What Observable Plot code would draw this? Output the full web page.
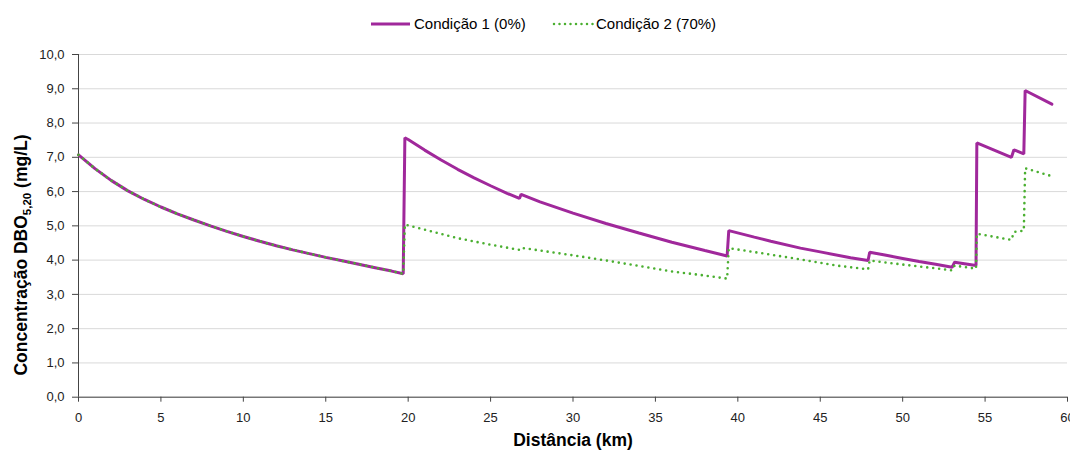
<!DOCTYPE html>
<html>
<head>
<meta charset="utf-8">
<script src="https://cdn.jsdelivr.net/npm/d3@7"></script>
<script src="https://cdn.jsdelivr.net/npm/@observablehq/plot@0.6"></script>
<style>
  body { margin: 0; background: #fff; font-family: "Liberation Sans", Arial, sans-serif; }
  #legend { position: relative; height: 45px; width: 1070px; font-size: 15px; color: #000; }
  #legend .lbl { position: absolute; top: 15px; line-height: 18px; white-space: nowrap; }
  #legend svg { position: absolute; top: 19px; }
  #chart svg { display: block; }
</style>
</head>
<body>
<div id="legend"></div>
<div id="chart"></div>
<script>
// Distância (km) and Concentração DBO (mg/L) — Condição 1 (0%)
const dist1 = [0,1,2,3,4,5,6,7,8,9,10,11,12,13,14,15,16,17,18,19,19.7,
  19.8,20,21,22,23,24,25,26,26.75,
  26.85,28,30,32,34,36,38,39.35,
  39.45,41,42,43.8,45,46.84,47.9,
  48.0,49,50,51,52,53.0,
  53.15,54.45,
  54.5,56.6,
  56.75,57.35,
  57.43,59.05];
const dbo1 = [7.07,6.67,6.32,6.02,5.77,5.55,5.35,5.17,5.00,4.84,4.69,4.55,4.42,4.30,4.19,4.08,3.98,3.88,3.78,3.68,3.60,
  7.57,7.52,7.21,6.92,6.65,6.40,6.17,5.95,5.80,
  5.92,5.70,5.37,5.07,4.79,4.52,4.28,4.12,
  4.86,4.67,4.55,4.35,4.24,4.07,3.99,
  4.23,4.14,4.05,3.96,3.88,3.79,
  3.94,3.84,
  7.42,7.00,
  7.22,7.10,
  8.95,8.55];

// Condição 2 (70%)
const dist2 = [0,1,2,3,4,5,6,7,8,9,10,11,12,13,14,15,16,17,18,19,19.7,
  19.8,21,23,25,26.75,
  26.85,28,30,32,34,36,38,39.35,
  39.45,42,43.8,46,47.9,
  48.0,50,52,53.0,
  53.15,54.45,
  54.5,56.6,
  56.75,57.35,
  57.43,59.05];
const dbo2 = [7.07,6.67,6.32,6.02,5.77,5.55,5.35,5.17,5.00,4.84,4.69,4.55,4.42,4.30,4.19,4.08,3.98,3.88,3.78,3.68,3.60,
  5.04,4.89,4.64,4.45,4.30,
  4.36,4.28,4.14,3.99,3.83,3.67,3.55,3.46,
  4.35,4.16,4.02,3.84,3.73,
  3.99,3.87,3.76,3.70,
  3.84,3.75,
  4.77,4.59,
  4.82,4.86,
  6.68,6.45];

const seriesNames = ["Condição 1 (0%)", "Condição 2 (70%)"];
const xTicks = [0,5,10,15,20,25,30,35,40,45,50,55,60];
const yTicks = [0,1,2,3,4,5,6,7,8,9,10];

const purple = "#a0289b";
const green = "#4aaf30";

const c1 = dist1.map((d, i) => ({x: d, y: dbo1[i]}));
const c2 = dist2.map((d, i) => ({x: d, y: dbo2[i]}));

// Legend (HTML, above the SVG)
const legend = document.getElementById("legend");
legend.innerHTML = `
  <svg width="40" height="10" style="left:371px"><line x1="0" y1="5" x2="39" y2="5" stroke="${purple}" stroke-width="3"/></svg>
  <span class="lbl" style="left:414px">${seriesNames[0]}</span>
  <svg width="44" height="10" style="left:552px"><line x1="2" y1="5" x2="41" y2="5" stroke="${green}" stroke-width="2.5" stroke-dasharray="0 5.5" stroke-linecap="round"/></svg>
  <span class="lbl" style="left:596px">${seriesNames[1]}</span>`;

const svg = Plot.plot({
  width: 1070,
  height: 405,
  marginLeft: 78,
  marginRight: 3,
  marginTop: 9,
  marginBottom: 53.3,
  style: { fontFamily: "'Liberation Sans', Arial, sans-serif", fontSize: "13px", color: "#222", background: "#fff" },
  x: { domain: [0, 60], label: null },
  y: { domain: [0, 10], label: null },
  marks: [
    Plot.gridY(yTicks, { stroke: "#d9d9d9", strokeOpacity: 1, strokeWidth: 1 }),
    Plot.axisY({ ticks: yTicks, tickSize: 6, tickPadding: 8, tickFormat: d => d.toFixed(1).replace(".", ","), label: null, stroke: "#444" }),
    Plot.axisX({ ticks: xTicks, tickSize: 5, tickPadding: 11, tickFormat: d => String(d), label: null, stroke: "#444" }),
    Plot.ruleX([0], { stroke: "#444", strokeWidth: 1 }),
    Plot.ruleY([0], { stroke: "#444", strokeWidth: 1 }),
    Plot.line(c1, { x: "x", y: "y", stroke: purple, strokeWidth: 3, strokeLinejoin: "miter" }),
    Plot.line(c2, { x: "x", y: "y", stroke: green, strokeWidth: 2.6, strokeDasharray: "0 6", strokeLinecap: "round" })
  ]
});

const s = d3.select(svg);
// X axis title
s.append("text")
  .attr("x", 573).attr("y", 401)
  .attr("text-anchor", "middle")
  .attr("font-family", "'Liberation Sans', Arial, sans-serif")
  .attr("font-size", 17.5).attr("font-weight", "bold").attr("fill", "#000")
  .text("Distância (km)");
// Y axis title with subscript
const yt = s.append("text")
  .attr("transform", "translate(26.5,210) rotate(-90)")
  .attr("text-anchor", "middle")
  .attr("font-family", "'Liberation Sans', Arial, sans-serif")
  .attr("font-size", 17.5).attr("font-weight", "bold").attr("fill", "#000");
yt.append("tspan").text("Concentração DBO");
yt.append("tspan").attr("font-size", 11.5).attr("dy", 4).text("5,20");
yt.append("tspan").attr("dy", -4).text(" (mg/L)");

document.getElementById("chart").appendChild(svg);
</script>
</body>
</html>
